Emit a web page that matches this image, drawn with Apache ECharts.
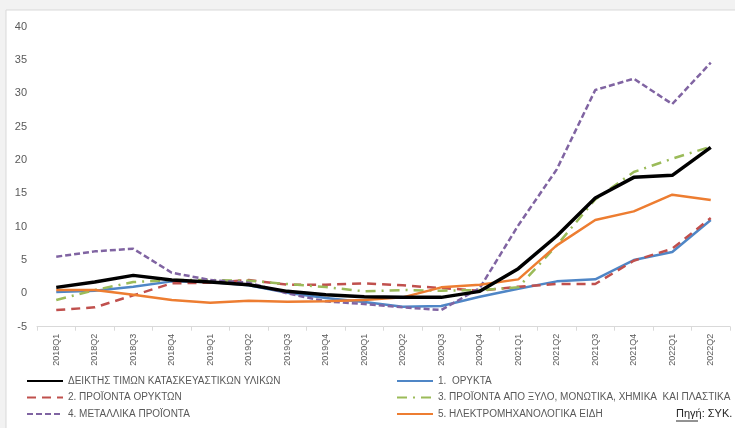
<!DOCTYPE html>
<html>
<head>
<meta charset="utf-8">
<script src="https://cdn.jsdelivr.net/npm/echarts@6/dist/echarts.min.js"></script>
<style>
  html, body { margin: 0; padding: 0; background: #f2f2f2; }
  #chart { width: 735px; height: 428px; }
</style>
</head>
<body>
<div id="chart"></div>
<script>
// Quarterly categories
const quarters = ['2018Q1','2018Q2','2018Q3','2018Q4','2019Q1','2019Q2','2019Q3','2019Q4',
  '2020Q1','2020Q2','2020Q3','2020Q4','2021Q1','2021Q2','2021Q3','2021Q4','2022Q1','2022Q2'];

// Annual % change per index
const indexTotal   = [0.9, 1.7, 2.7, 2.0, 1.7, 1.3, 0.3, -0.2, -0.5, -0.6, -0.6, 0.3, 3.7, 8.6, 14.3, 17.4, 17.7, 21.9];
const minerals     = [0.2, 0.4, 1.0, 1.8, 1.7, 1.2, 0.1, -0.7, -1.3, -2.0, -1.9, -0.5, 0.7, 1.8, 2.1, 5.0, 6.2, 11.0];
const mineralProd  = [-2.5, -2.1, -0.3, 1.5, 1.6, 2.0, 1.3, 1.3, 1.5, 1.2, 0.8, 0.4, 1.0, 1.4, 1.4, 4.9, 6.7, 11.3];
const woodChem     = [-1.0, 0.5, 1.7, 2.0, 2.0, 1.9, 1.4, 0.95, 0.3, 0.5, 0.4, 0.5, 0.9, 7.2, 14.1, 18.2, 20.2, 22.0];
const metalProd    = [5.5, 6.3, 6.7, 3.1, 2.0, 1.6, 0.0, -1.2, -1.6, -2.1, -2.5, 0.8, 10.2, 18.6, 30.5, 32.2, 28.4, 34.6];
const electroMech  = [0.5, 0.5, -0.2, -1.0, -1.4, -1.1, -1.25, -1.2, -1.0, -0.6, 0.9, 1.3, 2.1, 7.2, 11.0, 12.3, 14.8, 14.0];

const yMin = -5, yMax = 40, yStep = 5;

const names = [
  'ΔΕΙΚΤΗΣ ΤΙΜΩΝ ΚΑΤΑΣΚΕΥΑΣΤΙΚΩΝ ΥΛΙΚΩΝ',
  '1.  ΟΡΥΚΤΑ',
  '2. ΠΡΟΪΟΝΤΑ ΟΡΥΚΤΩΝ',
  '3. ΠΡΟΪΟΝΤΑ ΑΠΟ ΞΥΛΟ, ΜΟΝΩΤΙΚΑ, ΧΗΜΙΚΑ  ΚΑΙ ΠΛΑΣΤΙΚΑ',
  '4. ΜΕΤΑΛΛΙΚΑ ΠΡΟΪΟΝΤΑ',
  '5. ΗΛΕΚΤΡΟΜΗΧΑΝΟΛΟΓΙΚΑ ΕΙΔΗ'
];

const legendFont = { color: '#595959', fontSize: 10, fontFamily: '"Liberation Sans Narrow", "Liberation Sans", sans-serif' };

function line(name, data, color, width, type) {
  return {
    name, type: 'line', data,
    symbol: 'none', smooth: false, z: name === names[0] ? 10 : 5,
    lineStyle: { color, width, type, cap: 'butt' },
    itemStyle: { color }
  };
}

const legendBase = {
  orient: 'vertical', top: 376, itemWidth: 36, itemHeight: 10, itemGap: 6.5,
  textStyle: legendFont, padding: 0,
  itemStyle: { opacity: 0 }
};

const chart = echarts.init(document.getElementById('chart'), null, { renderer: 'canvas' });
chart.setOption({
  backgroundColor: '#f2f2f2',
  animation: false,
  graphic: [
    { type: 'rect', shape: { x: 6, y: 10, width: 740, height: 430 },
      style: { fill: '#ffffff', stroke: '#d9d9d9', lineWidth: 1 }, z: -10, silent: true },
    { type: 'text', left: 676, top: 408,
      style: { text: 'Πηγή: ΣΥΚ.', fill: '#262626', fontSize: 11,
        fontFamily: '"Liberation Sans Narrow", "Liberation Sans", sans-serif' } },
    { type: 'line', shape: { x1: 676, y1: 421, x2: 698, y2: 421 },
      style: { stroke: '#262626', lineWidth: 1 } }
  ],
  grid: { left: 37, right: 5, top: 26.7, bottom: 101.3, containLabel: false },
  xAxis: {
    type: 'category', data: quarters, boundaryGap: true,
    axisLine: { onZero: false, lineStyle: { color: '#d9d9d9', width: 1 } },
    axisTick: { show: true, alignWithLabel: false, length: 4, lineStyle: { color: '#d9d9d9' } },
    axisLabel: { rotate: 90, interval: 0, margin: 7, color: '#595959', fontSize: 9,
      fontFamily: '"Liberation Sans", Arial, sans-serif' },
    splitLine: { show: false }
  },
  yAxis: {
    type: 'value', min: yMin, max: yMax, interval: yStep,
    axisLine: { show: false }, axisTick: { show: false },
    splitLine: { show: false },
    axisLabel: { color: '#595959', fontSize: 11, margin: 10,
      fontFamily: '"Liberation Sans", Arial, sans-serif' }
  },
  legend: [
    Object.assign({ data: [names[0], names[2], names[4]], left: 26 }, legendBase),
    Object.assign({ data: [names[1], names[3], names[5]], left: 396 }, legendBase)
  ],
  series: [
    line(names[0], indexTotal, '#000000', 3.5, 'solid'),
    line(names[1], minerals, '#4f86c6', 2.5, 'solid'),
    line(names[2], mineralProd, '#c0504d', 2.5, [9, 6]),
    line(names[3], woodChem, '#9bbb59', 2.5, [10, 6, 2, 6]),
    line(names[4], metalProd, '#8064a2', 2.5, [6, 3]),
    line(names[5], electroMech, '#ed7d31', 2.5, 'solid')
  ]
});
</script>
</body>
</html>
